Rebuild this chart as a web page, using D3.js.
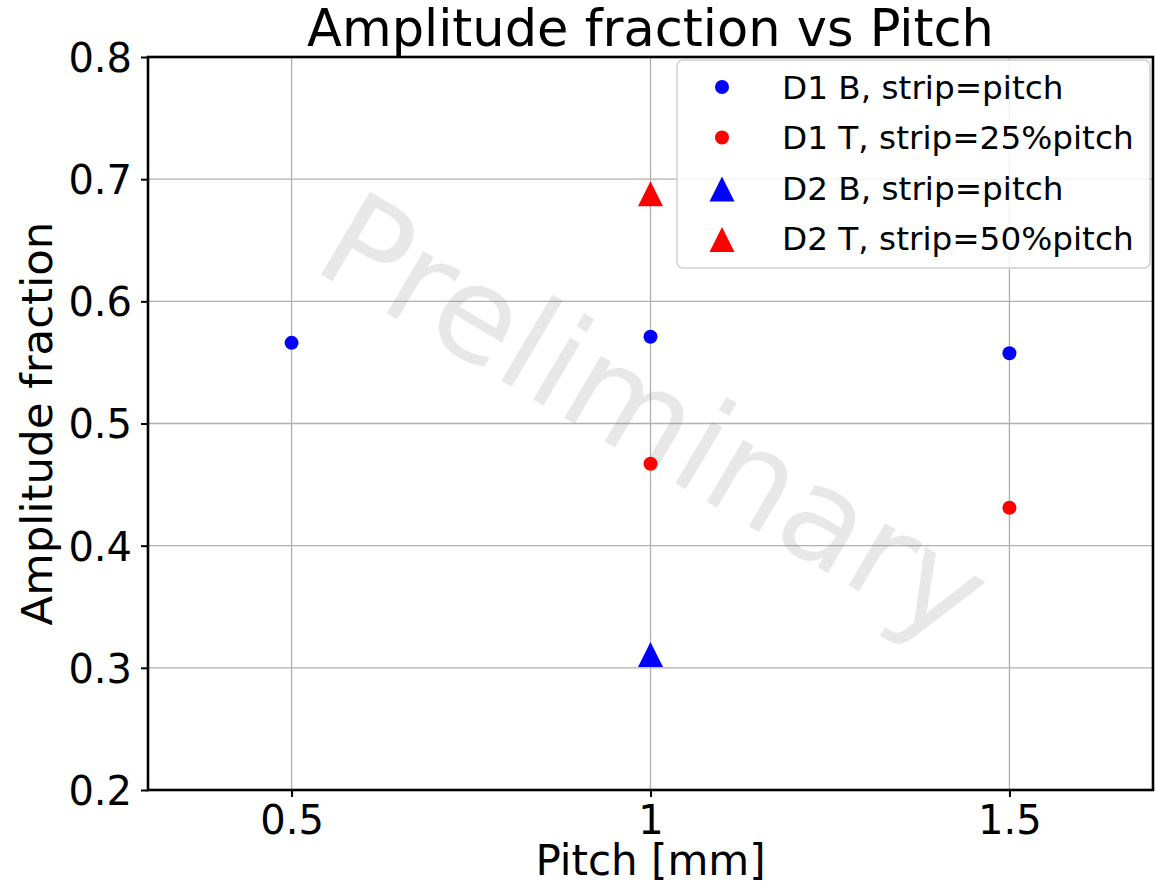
<!DOCTYPE html>
<html>
<head>
<meta charset="utf-8">
<script src="https://cdn.jsdelivr.net/npm/d3@7"></script>
<style>
  html, body { margin: 0; padding: 0; background: #fff; }
  svg { display: block; font-family: "DejaVu Sans", sans-serif; }
</style>
</head>
<body>
<svg id="chart" width="1157" height="886"></svg>
<script>
// Amplitude fraction measured per pitch for two detectors (bottom / top strips)
const xTicks = [0.5, 1, 1.5];
const yTicks = [0.2, 0.3, 0.4, 0.5, 0.6, 0.7, 0.8];

const d1bPitch = [0.5, 1, 1.5];
const d1bAmp   = [0.566, 0.571, 0.5575];

const d1tPitch = [1, 1.5];
const d1tAmp   = [0.467, 0.431];

const d2bPitch = [1];
const d2bAmp   = [0.311];

const d2tPitch = [1];
const d2tAmp   = [0.688];

const seriesNames = [
  "D1 B, strip=pitch",
  "D1 T, strip=25%pitch",
  "D2 B, strip=pitch",
  "D2 T, strip=50%pitch"
];

const series = [
  { name: seriesNames[0], x: d1bPitch, y: d1bAmp, color: "#0000ff", shape: "circle" },
  { name: seriesNames[1], x: d1tPitch, y: d1tAmp, color: "#ff0000", shape: "circle" },
  { name: seriesNames[2], x: d2bPitch, y: d2bAmp, color: "#0000ff", shape: "triangle" },
  { name: seriesNames[3], x: d2tPitch, y: d2tAmp, color: "#ff0000", shape: "triangle" }
];

const svg = d3.select("#chart");
const plot = { left: 148, right: 1153, top: 57, bottom: 790 };

const x = d3.scaleLinear().domain([0.3, 1.7]).range([plot.left, plot.right]);
const y = d3.scaleLinear().domain([0.2, 0.8]).range([plot.bottom, plot.top]);

// grid
const grid = svg.append("g").attr("class", "grid");
grid.selectAll("line.gx").data(xTicks).enter().append("line")
  .attr("x1", d => x(d)).attr("x2", d => x(d))
  .attr("y1", plot.top).attr("y2", plot.bottom)
  .attr("stroke", "#b0b0b0").attr("stroke-width", 1.3);
grid.selectAll("line.gy").data(yTicks).enter().append("line")
  .attr("y1", d => y(d)).attr("y2", d => y(d))
  .attr("x1", plot.left).attr("x2", plot.right)
  .attr("stroke", "#b0b0b0").attr("stroke-width", 1.3);

// watermark
svg.append("text")
  .attr("transform", `translate(${x(0.3) + 162},268) rotate(30.5)`)
  .attr("font-size", 132)
  .attr("fill", "#808080")
  .attr("fill-opacity", 0.18)
  .text("Preliminary");

// axes
const fmt = d => (d === 1 ? "1" : String(d));
const xAxis = svg.append("g")
  .attr("transform", `translate(0,${plot.bottom})`)
  .call(d3.axisBottom(x).tickValues(xTicks).tickFormat(fmt).tickSize(7).tickPadding(9));
const yAxis = svg.append("g")
  .attr("transform", `translate(${plot.left},0)`)
  .call(d3.axisLeft(y).tickValues(yTicks).tickFormat(d3.format(".1f")).tickSize(7).tickPadding(9));

[xAxis, yAxis].forEach(a => {
  a.select(".domain").remove();
  a.selectAll(".tick line").attr("stroke", "#000").attr("stroke-width", 2);
  a.selectAll(".tick text")
    .attr("font-family", "DejaVu Sans, sans-serif")
    .attr("font-size", 40)
    .attr("fill", "#000");
});
yAxis.selectAll(".tick text").attr("dy", "0.36em");

// points
const triPath = (cx, cy, s) =>
  `M${cx},${cy - s}L${cx - s},${cy + s}L${cx + s},${cy + s}Z`;

const pts = svg.append("g").attr("class", "points");
series.forEach(s => {
  const data = s.x.map((v, i) => [v, s.y[i]]);
  if (s.shape === "circle") {
    pts.selectAll(null).data(data).enter().append("circle")
      .attr("cx", d => x(d[0])).attr("cy", d => y(d[1]))
      .attr("r", 7).attr("fill", s.color);
  } else {
    pts.selectAll(null).data(data).enter().append("path")
      .attr("d", d => triPath(x(d[0]), y(d[1]), 12.5))
      .attr("fill", s.color);
  }
});

// frame
svg.append("rect")
  .attr("x", plot.left).attr("y", plot.top)
  .attr("width", plot.right - plot.left).attr("height", plot.bottom - plot.top)
  .attr("fill", "none").attr("stroke", "#000").attr("stroke-width", 2.6);

// legend
const legend = svg.append("g").attr("transform", "translate(677,60)");
legend.append("rect")
  .attr("x", 0).attr("y", 0).attr("width", 473).attr("height", 208)
  .attr("rx", 6).attr("ry", 6)
  .attr("fill", "#fff").attr("fill-opacity", 0.85)
  .attr("stroke", "#d0d0d0").attr("stroke-width", 1.5);
series.forEach((s, i) => {
  const cy = 27 + i * 50.5;
  if (s.shape === "circle") {
    legend.append("circle").attr("cx", 45).attr("cy", cy).attr("r", 7).attr("fill", s.color);
  } else {
    legend.append("path").attr("d", triPath(45, cy + 1, 12.5)).attr("fill", s.color);
  }
  legend.append("text")
    .attr("x", 105).attr("y", cy + 11.5)
    .attr("font-size", 32.7).attr("fill", "#000")
    .text(s.name);
});

// title and axis labels
svg.append("text")
  .attr("x", (plot.left + plot.right) / 2).attr("y", 46)
  .attr("text-anchor", "middle").attr("font-size", 51).attr("fill", "#000")
  .text("Amplitude fraction vs Pitch");

svg.append("text")
  .attr("x", (plot.left + plot.right) / 2).attr("y", 875)
  .attr("text-anchor", "middle").attr("font-size", 42).attr("fill", "#000")
  .text("Pitch [mm]");

svg.append("text")
  .attr("transform", `translate(52,${(plot.top + plot.bottom) / 2}) rotate(-90)`)
  .attr("text-anchor", "middle").attr("font-size", 43.5).attr("fill", "#000")
  .text("Amplitude fraction");
</script>
</body>
</html>
